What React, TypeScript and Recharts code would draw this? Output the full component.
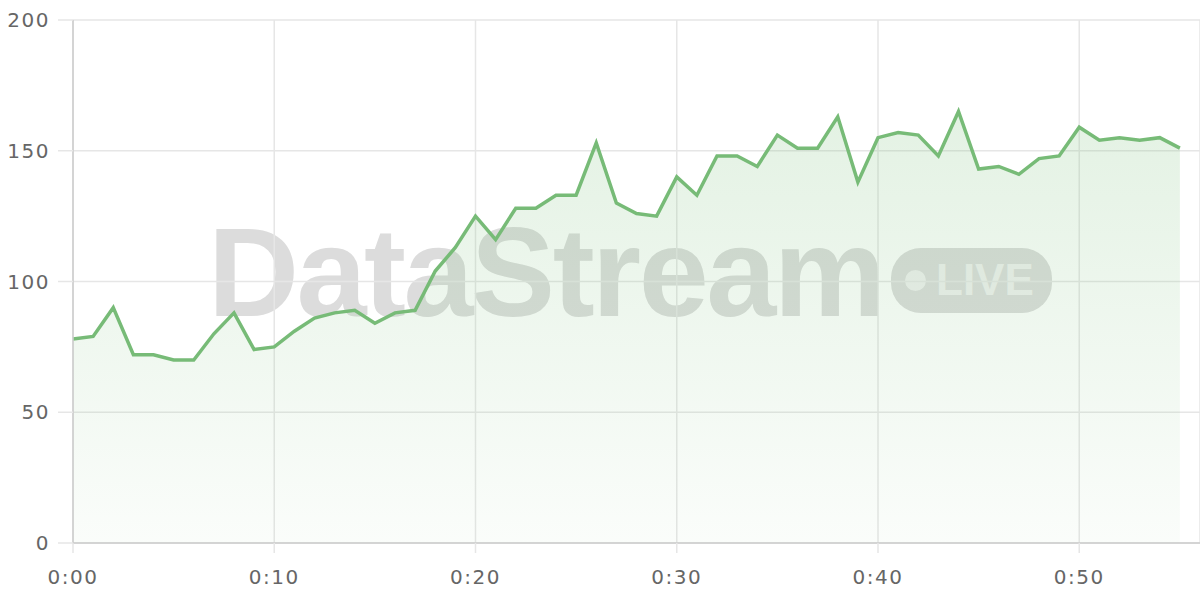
import { Area, AreaChart, CartesianGrid, XAxis, YAxis } from "recharts";

const minutes = Array.from({ length: 56 }, (_, i) => i);
const viewers = [
  78, 79, 90, 72, 72, 70, 70, 80, 88, 74,
  75, 81, 86, 88, 89, 84, 88, 89, 104, 113,
  125, 116, 128, 128, 133, 133, 153, 130, 126, 125,
  140, 133, 148, 148, 144, 156, 151, 151, 163, 138,
  155, 157, 156, 148, 165, 143, 144, 141, 147, 148,
  159, 154, 155, 154, 155, 151,
];
const xTicks = [0, 10, 20, 30, 40, 50];
const yTicks = [0, 50, 100, 150, 200];

const data = minutes.map((m, i) => ({ t: m, value: viewers[i] }));

const fmtTime = (v: number) => `${Math.floor(v / 60)}:${String(v % 60).padStart(2, "0")}`;

const tickStyle = { fill: "#666", fontSize: 20, fontFamily: "DejaVu Sans", letterSpacing: 1.5 };

function Watermark() {
  return (
    <div style={{ position: "absolute", left: 0, top: 0, width: 1200, height: 600 }}>
      <div
        style={{
          position: "absolute",
          left: 208,
          top: 203,
          fontFamily: "Liberation Sans",
          fontWeight: 700,
          fontSize: 126,
          letterSpacing: -2.5,
          color: "#dcdcdc",
          lineHeight: "140px",
        }}
      >
        DataStream
      </div>
      <div
        style={{
          position: "absolute",
          left: 891,
          top: 248,
          width: 161,
          height: 65,
          borderRadius: 30,
          background: "#dcdcdc",
        }}
      >
        <div
          style={{
            position: "absolute",
            left: 14,
            top: 22,
            width: 21,
            height: 21,
            borderRadius: "50%",
            background: "#f0f0f0",
          }}
        />
        <div
          style={{
            position: "absolute",
            left: 45,
            top: 6,
            fontFamily: "Liberation Sans",
            fontWeight: 700,
            fontSize: 44,
            lineHeight: "52px",
            color: "#f0f0f0",
          }}
        >
          LIVE
        </div>
      </div>
    </div>
  );
}

export default function App() {
  return (
    <div style={{ position: "fixed", left: 0, top: 0, width: 1200, height: 600, background: "#fff" }}>
      <Watermark />
      <div style={{ position: "absolute", left: 0, top: 0 }}>
        <AreaChart width={1200} height={600} data={data} margin={{ top: 20, right: 0, left: 0, bottom: 0 }}>
          <defs>
            <linearGradient id="fillGreen" x1="0" y1="0" x2="0" y2="1">
              <stop offset="0%" stopColor="#7cc07c" stopOpacity={0.35} />
              <stop offset="100%" stopColor="#7cc07c" stopOpacity={0.06} />
            </linearGradient>
          </defs>
          <CartesianGrid stroke="#e6e6e6" strokeWidth={1.5} />
          <XAxis
            dataKey="t"
            type="number"
            domain={[0, 56]}
            ticks={xTicks}
            tickFormatter={fmtTime}
            stroke="#cccccc"
            strokeWidth={1.5}
            tickLine={{ stroke: "#e6e6e6" }}
            tickSize={10}
            tickMargin={17}
            height={57}
            tick={tickStyle}
          />
          <YAxis
            domain={[0, 200]}
            ticks={yTicks}
            stroke="#cccccc"
            strokeWidth={1.5}
            tickLine={{ stroke: "#e6e6e6" }}
            tickSize={15}
            tickMargin={8}
            width={73}
            tick={tickStyle}
          />
          <Area
            type="linear"
            dataKey="value"
            stroke="#77bb77"
            strokeWidth={3.5}
            fill="url(#fillGreen)"
            isAnimationActive={false}
          />
        </AreaChart>
      </div>
    </div>
  );
}
